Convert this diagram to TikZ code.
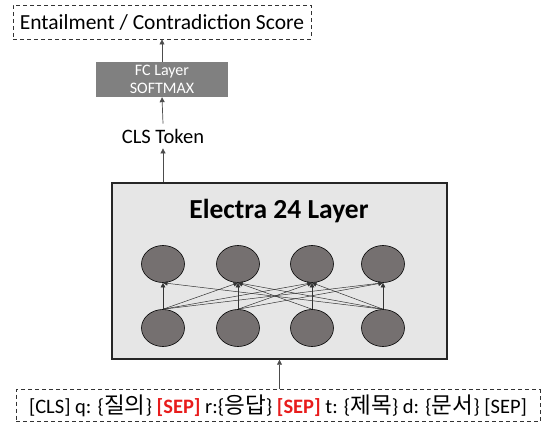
\documentclass[tikz,border=0pt]{standalone}
\usepackage{fontspec}
\setmainfont{Carlito}
\newfontfamily\cjk[Scale=1.1]{Noto Sans CJK KR}
\usepackage{xcolor}
\usepackage{tikz}
\usetikzlibrary{shapes.geometric, arrows.meta, positioning, calc}

\definecolor{fcgray}{RGB}{128,128,128}
\definecolor{boxgray}{RGB}{230,230,230}
\definecolor{unitgray}{RGB}{117,112,112}
\definecolor{sepred}{RGB}{232,28,28}

\tikzset{
    dashbox/.style={draw=black!80, line width=0.9pt, dash pattern=on 4pt off 3pt},
    fcbox/.style={fill=fcgray, text=white, align=center, minimum width=132pt, minimum height=35pt,
        inner sep=0pt, font=\fontsize{16}{18}\selectfont},
    unit/.style={ellipse, draw=black, line width=0.6pt, fill=unitgray, minimum width=43pt, minimum height=37pt},
    uparrow/.style={-{Triangle[width=5pt,length=5pt]}, draw=black!70, line width=0.7pt},
    link/.style={-{Triangle[width=4.5pt,length=4.5pt]}, draw=black!80, line width=0.5pt},
    sep/.style={text=sepred, font=\bfseries}
}

\begin{document}
\begin{tikzpicture}[x=1pt, y=-1pt]
    \useasboundingbox (0,0) rectangle (546,423);
    % Output score
    \node[dashbox, minimum width=298pt, minimum height=34pt, font=\fontsize{21.5}{24}\selectfont]
        (score) at (162,22) {Entailment / Contradiction Score};
    % Classifier head
    \node[fcbox] (fc) at (162,79.5) {FC Layer\\SOFTMAX};
    \node[font=\fontsize{20.5}{24}\selectfont, inner sep=5pt] (cls) at (163,136) {CLS Token};
    % Encoder block
    \node[draw=black!85, line width=1.4pt, fill=boxgray, minimum width=335pt, minimum height=176pt]
        (electra) at (279.5,271) {};
    \node[font=\bfseries\fontsize{27.5}{30}\selectfont] (title) at (279,211) {Electra 24 Layer};
    \foreach \i/\x in {1/163,2/238,3/312,4/383} {
        \node[unit] (t\i) at (\x,264) {};
        \node[unit] (b\i) at (\x,328) {};
    }
    \foreach \a/\b in {1/1,1/2,1/3,1/4,2/2,2/3,2/4,3/2,3/3,4/1,4/2,4/3,4/4}
        \draw[link] (b\a.north) -- (t\b.south);
    % Input sequence
    \node[dashbox, minimum width=524pt, minimum height=32pt, font=\fontsize{20.5}{23}\selectfont]
        (input) at (278,405.5) {[CLS] q: \{{\cjk 질의}\} \textcolor{sepred}{\bfseries [SEP]} r:\{{\cjk 응답}\}
        \textcolor{sepred}{\bfseries [SEP]} t: \{{\cjk 제목}\} d: \{{\cjk 문서}\} [SEP]};
    % Connectors
    \draw[uparrow] (input.north -| electra.south) -- (electra.south);
    \draw[uparrow] (electra.north -| cls.south) -- (cls.south);
    \draw[uparrow] (cls.north) -- (fc.south);
    \draw[uparrow] (fc.north) -- (score.south -| fc.north);
\end{tikzpicture}
\end{document}
